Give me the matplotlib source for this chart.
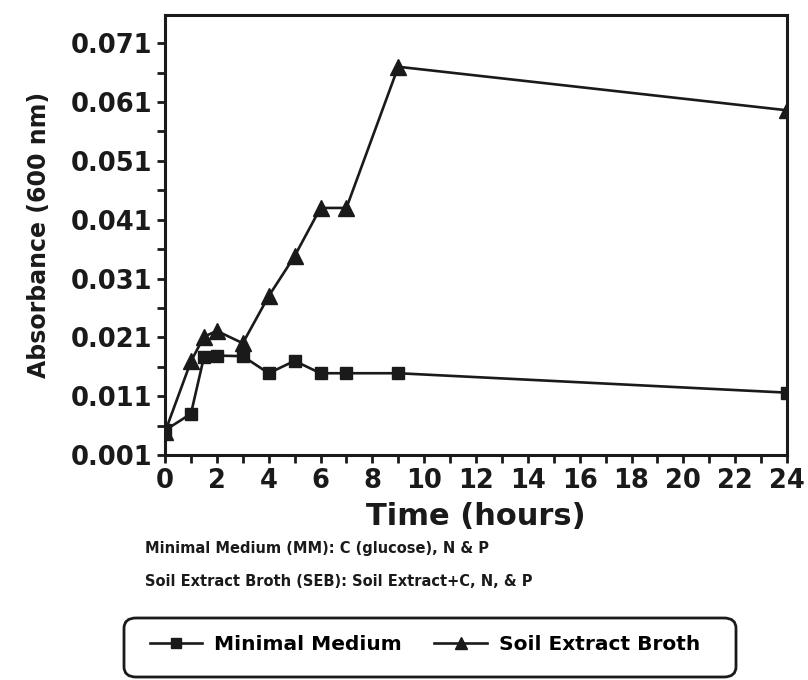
import matplotlib
matplotlib.use("Agg")
import matplotlib.pyplot as plt
from matplotlib.patches import FancyBboxPatch
from matplotlib.ticker import MultipleLocator, FixedLocator

# Sampling times (hours)
hours = [0, 1, 1.5, 2, 3, 4, 5, 6, 7, 9, 24]

# Absorbance at 600 nm
minimal_medium = [0.0052, 0.0080, 0.0176, 0.0179, 0.0178, 0.0149, 0.0170, 0.0149, 0.0149, 0.0149, 0.0116]
soil_extract_broth = [0.0049, 0.0169, 0.0211, 0.0221, 0.0200, 0.0280, 0.0348, 0.0430, 0.0430, 0.0670, 0.0596]

x_ticks = list(range(0, 25, 2))
y_ticks = [0.001, 0.011, 0.021, 0.031, 0.041, 0.051, 0.061, 0.071]
y_tick_labels = ["0.001", "0.011", "0.021", "0.031", "0.041", "0.051", "0.061", "0.071"]

plt.rcParams["font.family"] = ["DejaVu Sans"]
plt.rcParams["font.weight"] = "bold"

fig = plt.figure(figsize=(8.08, 6.80), dpi=100)
ax = fig.add_axes([165 / 808, 1 - 455 / 680, (787 - 165) / 808, (455 - 15) / 680])

ink = "#1a1a1a"
l1, = ax.plot(hours, minimal_medium, color=ink, lw=1.9, marker="s", ms=9,
              mfc=ink, mec=ink, label="Minimal Medium")
l2, = ax.plot(hours, soil_extract_broth, color=ink, lw=1.9, marker="^", ms=11,
              mfc=ink, mec=ink, label="Soil Extract Broth")

ax.set_xlim(0, 24)
ax.set_ylim(0.001, 0.0758)
ax.set_xticks(x_ticks)
ax.set_xticklabels([str(t) for t in x_ticks])
ax.xaxis.set_minor_locator(MultipleLocator(1))
ax.set_yticks(y_ticks)
ax.set_yticklabels(y_tick_labels)
ax.yaxis.set_minor_locator(FixedLocator([0.006 + 0.01 * i for i in range(7)]))

for s in ax.spines.values():
    s.set_linewidth(2.2)
    s.set_color(ink)

ax.tick_params(axis="both", which="major", direction="out", length=6, width=2.0,
               color=ink, labelsize=18.5, labelcolor=ink, pad=3)
ax.tick_params(axis="both", which="minor", direction="out", length=6, width=2.0, color=ink)
for lab in ax.get_xticklabels() + ax.get_yticklabels():
    lab.set_fontweight("heavy")

ax.set_xlabel("Time (hours)", fontsize=22, fontweight="heavy", color=ink, labelpad=6)
ax.set_ylabel("Absorbance (600 nm)", fontsize=17, fontweight="heavy", color=ink, labelpad=14)

fig.text(145 / 808, 1 - 549 / 680, "Minimal Medium (MM): C (glucose), N & P",
         fontsize=10.5, fontweight="heavy", color=ink, va="center", ha="left")
fig.text(145 / 808, 1 - 581 / 680, "Soil Extract Broth (SEB): Soil Extract+C, N, & P",
         fontsize=10.5, fontweight="heavy", color=ink, va="center", ha="left")

# Legend frame with rounded corners
box = FancyBboxPatch((124 / 808, 1 - 677 / 680), (736 - 124) / 808, (677 - 618) / 680,
                     boxstyle="round,pad=0,rounding_size=0.015", transform=fig.transFigure,
                     fill=False, ec=ink, lw=2.0)
fig.add_artist(box)
fig.legend(handles=[l1, l2], loc="center", bbox_to_anchor=(425 / 808, 1 - 645 / 680),
           ncol=2, frameon=False, prop={"weight": "heavy", "size": 14.5},
           handlelength=2.6, columnspacing=1.6, handletextpad=0.6, markerscale=0.8)

fig.savefig("out.png", dpi=100)
